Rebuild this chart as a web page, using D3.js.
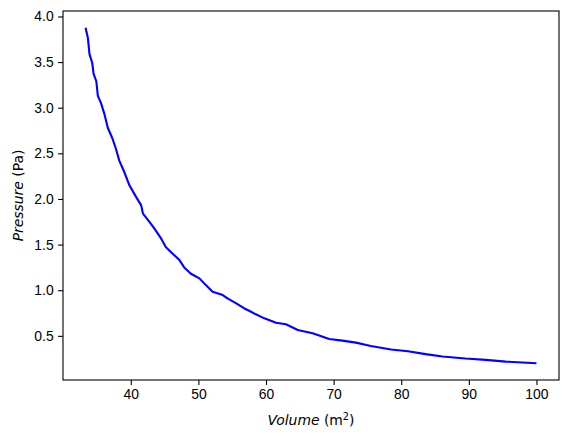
<!DOCTYPE html>
<html>
<head>
<meta charset="utf-8">
<script src="https://cdn.jsdelivr.net/npm/d3@7"></script>
<style>
  body { margin: 0; background: #fff; }
  svg { font-family: "DejaVu Sans", sans-serif; }
  .tick text { font-size: 13.9px; fill: #000; }
  .tick line { stroke: #000; stroke-width: 1.1; }
  .domain { display: none; }
</style>
</head>
<body>
<svg id="chart" width="569" height="439"></svg>
<script>
// volume (m^2) readings, left to right
const volume = [33.31, 33.65, 33.9, 34.3, 34.5, 34.9, 35.13, 35.6, 36.1, 36.6, 37.3, 37.8, 38.3,
  39.07, 39.8, 40.8, 41.54, 41.8, 42.76, 43.5, 44.5, 45.2, 46.2, 47.2, 47.9, 48.9, 50.15,
  51.1, 52.1, 53.6, 54.3, 55.6, 56.8, 57.5, 58.5, 59.75, 61.5, 62.95, 64.7, 66.9, 69.35,
  71.3, 73.3, 75.5, 78.5, 81.0, 83.6, 86.1, 89.5, 92.5, 95.45, 100];
// pressure (Pa) readings
const pressure = [3.876, 3.766, 3.585, 3.49, 3.37, 3.29, 3.13, 3.05, 2.93, 2.78, 2.66, 2.55, 2.42,
  2.29, 2.15, 2.02, 1.93, 1.84, 1.75, 1.675, 1.565, 1.47, 1.40, 1.33, 1.25, 1.18, 1.13,
  1.056, 0.983, 0.947, 0.91, 0.856, 0.80, 0.775, 0.736, 0.692, 0.644, 0.627, 0.564, 0.528, 0.466,
  0.448, 0.426, 0.388, 0.35, 0.332, 0.30, 0.273, 0.251, 0.237, 0.218, 0.20];

const xTicks = [40, 50, 60, 70, 80, 90, 100];
const yTicks = [0.5, 1.0, 1.5, 2.0, 2.5, 3.0, 3.5, 4.0];

const margin = { top: 11, right: 10, bottom: 59, left: 63 };
const width = 569 - margin.left - margin.right;
const height = 439 - margin.top - margin.bottom;

const points = volume.map((v, i) => ({ v: v, p: pressure[i] }));

// matplotlib style 5% padding around the data
const xExt = d3.extent(volume), yExt = d3.extent(pressure);
const xPad = (xExt[1] - xExt[0]) * 0.05, yPad = (yExt[1] - yExt[0]) * 0.05;

const x = d3.scaleLinear().domain([xExt[0] - xPad, xExt[1] + xPad]).range([0, width]);
const y = d3.scaleLinear().domain([yExt[0] - yPad, yExt[1] + yPad]).range([height, 0]);

const svg = d3.select("#chart");
const g = svg.append("g").attr("transform", `translate(${margin.left},${margin.top})`);

g.append("g")
  .attr("transform", `translate(0,${height})`)
  .call(d3.axisBottom(x).tickValues(xTicks).tickFormat(d3.format("d")).tickSizeOuter(0).tickSize(4.9).tickPadding(4.5));

g.append("g")
  .call(d3.axisLeft(y).tickValues(yTicks).tickFormat(d3.format(".1f")).tickSizeOuter(0).tickSize(4.9).tickPadding(4.5));

g.append("path")
  .datum(points)
  .attr("fill", "none")
  .attr("stroke", "#0000ff")
  .attr("stroke-width", 2.1)
  .attr("stroke-linejoin", "round")
  .attr("d", d3.line().x(d => x(d.v)).y(d => y(d.p)));

// frame
g.append("rect")
  .attr("width", width).attr("height", height)
  .attr("fill", "none").attr("stroke", "#000").attr("stroke-width", 1.1);

// axis labels
const xl = svg.append("text")
  .attr("x", margin.left + width / 2).attr("y", 425)
  .attr("text-anchor", "middle").style("font-size", "13.9px");
xl.append("tspan").style("font-style", "italic").text("Volume");
xl.append("tspan").text(" (m");
xl.append("tspan").attr("dy", -5).style("font-size", "9.7px").text("2");
xl.append("tspan").attr("dy", 5).text(")");

const yl = svg.append("text")
  .attr("transform", `translate(23,${margin.top + height / 2}) rotate(-90)`)
  .attr("text-anchor", "middle").style("font-size", "13.9px");
yl.append("tspan").style("font-style", "italic").text("Pressure");
yl.append("tspan").text(" (Pa)");
</script>
</body>
</html>
